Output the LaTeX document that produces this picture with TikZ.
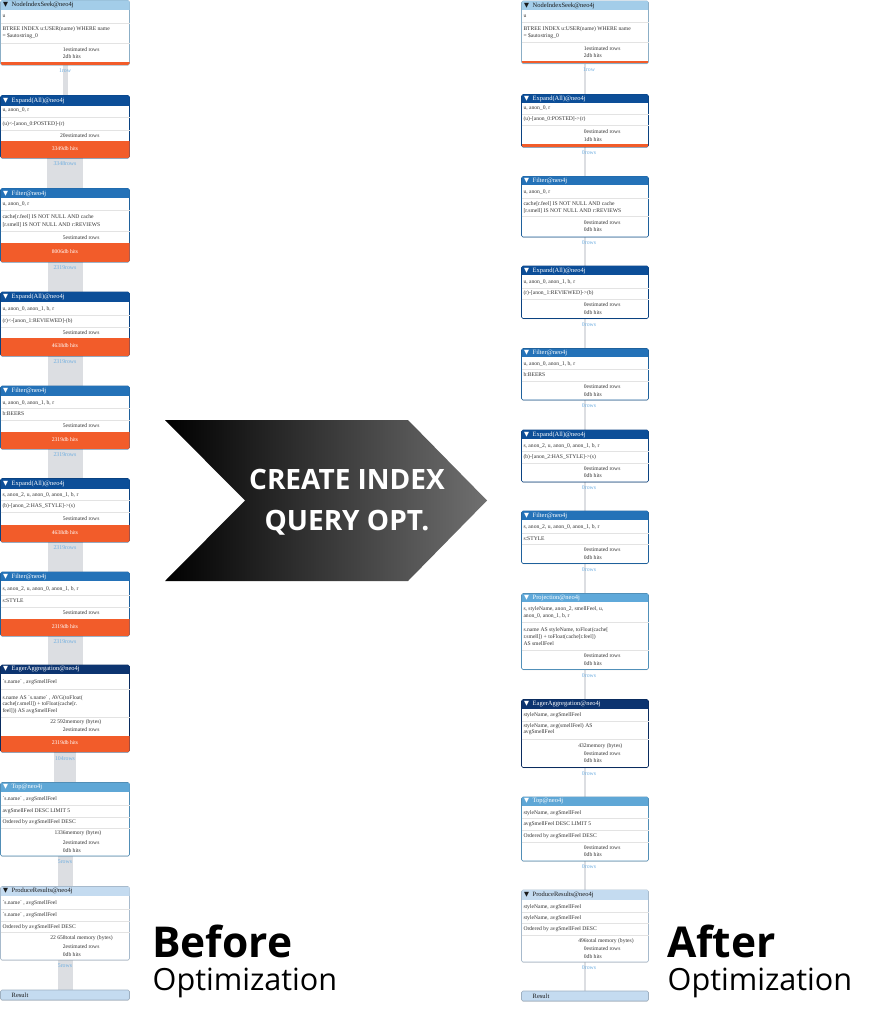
\documentclass[tikz,border=0pt]{standalone}
\usepackage{fontspec}
\setmainfont{Open Sans}
\newfontfamily\planfont{Liberation Serif}
\newfontfamily\symfont{DejaVu Sans}
\usetikzlibrary{shadows}
\pgfdeclarelayer{background}
\pgfsetlayers{background,main}
\definecolor{hdrSeek}{HTML}{A3CDE9}
\definecolor{hdrExpand}{HTML}{0C4E98}
\definecolor{hdrFilter}{HTML}{2472B8}
\definecolor{hdrAgg}{HTML}{0C3470}
\definecolor{hdrTop}{HTML}{5FA7D6}
\definecolor{hdrProj}{HTML}{5FA9DA}
\definecolor{hdrProduce}{HTML}{C4DBF0}
\definecolor{hitsOrange}{HTML}{F25C2A}
\definecolor{rowsBlue}{HTML}{6FAEE0}
\definecolor{pipeGray}{HTML}{DCDEE2}
\definecolor{rowInk}{HTML}{333333}
\definecolor{sepGray}{HTML}{E3E3E3}
\definecolor{titleDark}{HTML}{1A1A1A}
\definecolor{arrowGray}{HTML}{707070}
\newcount\rowno
\newcommand{\BoxW}{129}
\newcommand{\bqt}{\textasciigrave}
\tikzset{
    opframe/.style={rectangle, fill=white, rounded corners=1.5pt, line width=0.6pt,
      inner sep=0pt, outer sep=0pt,
      drop shadow={shadow xshift=0pt, shadow yshift=-0.7pt, fill=black, opacity=0.2}},
    resultframe/.style={opframe, fill=hdrProduce, draw=hdrProduce!80!black},
    optitle/.style={anchor=west, inner sep=0pt, font=\planfont\fontsize{6.5}{7}\selectfont},
    planrow/.style={anchor=west, inner sep=0pt, text=rowInk, font=\planfont\fontsize{5.6}{6}\selectfont},
    hitstext/.style={inner sep=0pt, text=white, font=\planfont\fontsize{5.6}{6}\selectfont},
    plansep/.style={draw=sepGray, line width=0.5pt},
    pipe/.style={draw=pipeGray},
    thinpipe/.style={draw=pipeGray, line width=1.6pt},
    rowcount/.style={pos=0.2, inner sep=0pt, text=rowsBlue, font=\planfont\fontsize{5.8}{6}\selectfont},
    banner/.style={align=center, text=white, font=\bfseries\fontsize{28}{41}\selectfont},
}
\newcommand{\OpBox}[8]{%
  \node[opframe, draw=#6!85!black, anchor=north west, minimum width={\BoxW*1pt},
        minimum height={(#5-#3)*1pt}] (#1) at (#2,#3) {};
  \begin{scope}
    \clip[rounded corners=1.5pt] (#1.north west) rectangle (#1.south east);
    \fill[#6] (#1.north west) rectangle (#2+\BoxW,#4);
  \end{scope}
  \node[optitle, text=#7] (#1-title) at (#2+2.5,{(#3+#4)/2}) {{\symfont ▼}\hspace{3.5pt}#8};
}
\newcommand{\OpHits}[5]{%
  \begin{scope}
    \clip[rounded corners=1.5pt] (#1.north west) rectangle (#1.south east);
    \fill[hitsOrange] (#2,#3) rectangle (#2+\BoxW,#4);
  \end{scope}
  \node[hitstext] (#1-hits) at (#2+\BoxW/2,{(#3+#4)/2-1}) {#5};
}
\newcommand{\OpEdge}[4]{%
  \begin{scope}
    \clip[rounded corners=1.5pt] (#1.north west) rectangle (#1.south east);
    \fill[hitsOrange] (#2,#3) rectangle (#2+\BoxW,#4);
  \end{scope}
}
\newcommand{\OpResult}[4]{%
  \node[resultframe, anchor=north west, minimum width={\BoxW*1pt},
        minimum height={(#4-#3)*1pt}] (#1) at (#2,#3) {};
  \node[optitle, text=titleDark] (#1-title) at (#2+11,{(#3+#4)/2}) {Result};
}
\newcommand{\Row}[3]{\global\advance\rowno by 1
  \node[planrow] (row\the\rowno) at (#1+1.8,#2) {#3};}
\newcommand{\Stat}[4]{\global\advance\rowno by 1
  \node[planrow] (row\the\rowno) at (#1+65,#2) {\llap{#3}#4};}
\newcommand{\Sep}[2]{\draw[plansep] (#1,#2) -- ++(\BoxW,0);}

\begin{document}
\begin{tikzpicture}[x=1pt, y=-1pt]
  \useasboundingbox (0,0) rectangle (888,1016);

  % before: left plan
  \renewcommand{\BoxW}{129}
  \OpBox{seekL}{0.5}{0.5}{10}{65}{hdrSeek}{titleDark}{NodeIndexSeek@neo4j}
  \Row{0.5}{16}{u}
  \Sep{0.5}{23}
  \Row{0.5}{29}{BTREE INDEX u:USER(name) WHERE name}
  \Row{0.5}{36.5}{= \$autostring\_0}
  \Sep{0.5}{43}
  \Stat{0.5}{49.5}{1}{estimated rows}
  \Stat{0.5}{57}{2}{db hits}
  \OpEdge{seekL}{0.5}{62}{65}

  \OpBox{expandL1}{0.5}{95.5}{106}{158}{hdrExpand}{white}{Expand(All)@neo4j}
  \Row{0.5}{110.5}{u, anon\_0, r}
  \Sep{0.5}{117}
  \Row{0.5}{124}{(u)<-[anon\_0:POSTED]-(r)}
  \Sep{0.5}{130}
  \Stat{0.5}{136}{20}{estimated rows}
  \OpHits{expandL1}{0.5}{141}{158}{3349db hits}

  \OpBox{filterL1}{0.5}{188.5}{198.5}{262}{hdrFilter}{white}{Filter@neo4j}
  \Row{0.5}{204}{u, anon\_0, r}
  \Sep{0.5}{210}
  \Row{0.5}{216.5}{cache[r.feel] IS NOT NULL AND cache}
  \Row{0.5}{225}{[r.smell] IS NOT NULL AND r:REVIEWS}
  \Sep{0.5}{231.5}
  \Stat{0.5}{237.5}{5}{estimated rows}
  \OpHits{filterL1}{0.5}{243}{262}{8006db hits}

  \OpBox{expandL2}{0.5}{292}{302}{356}{hdrExpand}{white}{Expand(All)@neo4j}
  \Row{0.5}{308.5}{u, anon\_0, anon\_1, b, r}
  \Sep{0.5}{315}
  \Row{0.5}{321}{(r)<-[anon\_1:REVIEWED]-(b)}
  \Sep{0.5}{327}
  \Stat{0.5}{332.5}{5}{estimated rows}
  \OpHits{expandL2}{0.5}{338}{356}{4638db hits}

  \OpBox{filterL2}{0.5}{386}{395.5}{449}{hdrFilter}{white}{Filter@neo4j}
  \Row{0.5}{402.5}{u, anon\_0, anon\_1, b, r}
  \Sep{0.5}{408.5}
  \Row{0.5}{414}{b:BEERS}
  \Sep{0.5}{420}
  \Stat{0.5}{426}{5}{estimated rows}
  \OpHits{filterL2}{0.5}{432}{449}{2319db hits}

  \OpBox{expandL3}{0.5}{478.5}{488.5}{542}{hdrExpand}{white}{Expand(All)@neo4j}
  \Row{0.5}{495}{s, anon\_2, u, anon\_0, anon\_1, b, r}
  \Sep{0.5}{500.5}
  \Row{0.5}{506}{(b)-[anon\_2:HAS\_STYLE]->(s)}
  \Sep{0.5}{512}
  \Stat{0.5}{518.5}{5}{estimated rows}
  \OpHits{expandL3}{0.5}{525}{542}{4638db hits}

  \OpBox{filterL3}{0.5}{572}{581}{636}{hdrFilter}{white}{Filter@neo4j}
  \Row{0.5}{589}{s, anon\_2, u, anon\_0, anon\_1, b, r}
  \Sep{0.5}{595}
  \Row{0.5}{601}{s:STYLE}
  \Sep{0.5}{607}
  \Stat{0.5}{613}{5}{estimated rows}
  \OpHits{filterL3}{0.5}{618.5}{636}{2319db hits}

  \OpBox{aggL}{0.5}{665}{674}{752}{hdrAgg}{white}{EagerAggregation@neo4j}
  \Row{0.5}{682}{\bqt s.name\bqt{} , avgSmellFeel}
  \Sep{0.5}{689.5}
  \Row{0.5}{698}{s.name AS \bqt s.name\bqt{} , AVG(toFloat(}
  \Row{0.5}{704.5}{cache[r.smell]) + toFloat(cache[r.}
  \Row{0.5}{711}{feel])) AS avgSmellFeel}
  \Sep{0.5}{717}
  \Stat{0.5}{722.5}{22 592}{memory (bytes)}
  \Stat{0.5}{730}{2}{estimated rows}
  \OpHits{aggL}{0.5}{735.5}{752}{2319db hits}

  \OpBox{topL}{0.5}{782.5}{792}{856}{hdrTop}{white}{Top@neo4j}
  \Row{0.5}{799}{\bqt s.name\bqt{} , avgSmellFeel}
  \Sep{0.5}{805}
  \Row{0.5}{811}{avgSmellFeel DESC LIMIT 5}
  \Sep{0.5}{817}
  \Row{0.5}{822.5}{Ordered by avgSmellFeel DESC}
  \Sep{0.5}{828.5}
  \Stat{0.5}{833.5}{1336}{memory (bytes)}
  \Stat{0.5}{842.5}{2}{estimated rows}
  \Stat{0.5}{850.5}{0}{db hits}

  \OpBox{produceL}{0.5}{886.5}{896}{960}{hdrProduce}{titleDark}{ProduceResults@neo4j}
  \Row{0.5}{903.5}{\bqt s.name\bqt{} , avgSmellFeel}
  \Sep{0.5}{909.5}
  \Row{0.5}{915}{\bqt s.name\bqt{} , avgSmellFeel}
  \Sep{0.5}{921}
  \Row{0.5}{927}{Ordered by avgSmellFeel DESC}
  \Sep{0.5}{932.5}
  \Stat{0.5}{938.5}{22 658}{total memory (bytes)}
  \Stat{0.5}{947}{2}{estimated rows}
  \Stat{0.5}{954.5}{0}{db hits}

  \OpResult{resultL}{0.5}{990}{1000}

  % after: right plan
  \renewcommand{\BoxW}{127}
  \OpBox{seekR}{521.5}{1}{10}{63.5}{hdrSeek}{titleDark}{NodeIndexSeek@neo4j}
  \Row{521.5}{16}{u}
  \Sep{521.5}{22}
  \Row{521.5}{29}{BTREE INDEX u:USER(name) WHERE name}
  \Row{521.5}{36}{= \$autostring\_0}
  \Sep{521.5}{42.5}
  \Stat{521.5}{48.5}{1}{estimated rows}
  \Stat{521.5}{56}{2}{db hits}
  \OpEdge{seekR}{521.5}{61}{63.5}

  \OpBox{expandR1}{521.5}{94.5}{103}{147}{hdrExpand}{white}{Expand(All)@neo4j}
  \Row{521.5}{108.5}{u, anon\_0, r}
  \Sep{521.5}{114}
  \Row{521.5}{119}{(u)-[anon\_0:POSTED]->(r)}
  \Sep{521.5}{125}
  \Stat{521.5}{132}{0}{estimated rows}
  \Stat{521.5}{140}{1}{db hits}
  \OpEdge{expandR1}{521.5}{144.5}{147}

  \OpBox{filterR1}{521.5}{176.5}{185}{237}{hdrFilter}{white}{Filter@neo4j}
  \Row{521.5}{192.5}{u, anon\_0, r}
  \Sep{521.5}{198}
  \Row{521.5}{203.5}{cache[r.feel] IS NOT NULL AND cache}
  \Row{521.5}{211}{[r.smell] IS NOT NULL AND r:REVIEWS}
  \Sep{521.5}{216.5}
  \Stat{521.5}{222.5}{0}{estimated rows}
  \Stat{521.5}{230}{0}{db hits}

  \OpBox{expandR2}{521.5}{266}{275}{318.5}{hdrExpand}{white}{Expand(All)@neo4j}
  \Row{521.5}{282}{u, anon\_0, anon\_1, b, r}
  \Sep{521.5}{288}
  \Row{521.5}{293.5}{(r)-[anon\_1:REVIEWED]->(b)}
  \Sep{521.5}{299.5}
  \Stat{521.5}{305}{0}{estimated rows}
  \Stat{521.5}{312.5}{0}{db hits}

  \OpBox{filterR2}{521.5}{348.5}{357}{400}{hdrFilter}{white}{Filter@neo4j}
  \Row{521.5}{363.5}{u, anon\_0, anon\_1, b, r}
  \Sep{521.5}{369.5}
  \Row{521.5}{375}{b:BEERS}
  \Sep{521.5}{381}
  \Stat{521.5}{387}{0}{estimated rows}
  \Stat{521.5}{394.5}{0}{db hits}

  \OpBox{expandR3}{521.5}{430}{439}{482}{hdrExpand}{white}{Expand(All)@neo4j}
  \Row{521.5}{446}{s, anon\_2, u, anon\_0, anon\_1, b, r}
  \Sep{521.5}{451.5}
  \Row{521.5}{457}{(b)-[anon\_2:HAS\_STYLE]->(s)}
  \Sep{521.5}{463}
  \Stat{521.5}{468.5}{0}{estimated rows}
  \Stat{521.5}{476}{0}{db hits}

  \OpBox{filterR3}{521.5}{511}{520}{563.5}{hdrFilter}{white}{Filter@neo4j}
  \Row{521.5}{527}{s, anon\_2, u, anon\_0, anon\_1, b, r}
  \Sep{521.5}{533}
  \Row{521.5}{538.5}{s:STYLE}
  \Sep{521.5}{544.5}
  \Stat{521.5}{550}{0}{estimated rows}
  \Stat{521.5}{558}{0}{db hits}

  \OpBox{projR}{521.5}{593.5}{602}{669.5}{hdrProj}{white}{Projection@neo4j}
  \Row{521.5}{609}{s, styleName, anon\_2, smellFeel, u,}
  \Row{521.5}{616}{anon\_0, anon\_1, b, r}
  \Sep{521.5}{622.5}
  \Row{521.5}{630}{s.name AS styleName, toFloat(cache[}
  \Row{521.5}{637}{r.smell]) + toFloat(cache[r.feel])}
  \Row{521.5}{644}{AS smellFeel}
  \Sep{521.5}{650}
  \Stat{521.5}{656}{0}{estimated rows}
  \Stat{521.5}{664}{0}{db hits}

  \OpBox{aggR}{521.5}{699.5}{708.5}{767.5}{hdrAgg}{white}{EagerAggregation@neo4j}
  \Row{521.5}{715}{styleName, avgSmellFeel}
  \Sep{521.5}{721}
  \Row{521.5}{726}{styleName, avg(smellFeel) AS}
  \Row{521.5}{732.5}{avgSmellFeel}
  \Sep{521.5}{739}
  \Stat{521.5}{746}{432}{memory (bytes)}
  \Stat{521.5}{753.5}{0}{estimated rows}
  \Stat{521.5}{761}{0}{db hits}

  \OpBox{topR}{521.5}{797}{806}{861}{hdrTop}{white}{Top@neo4j}
  \Row{521.5}{813}{styleName, avgSmellFeel}
  \Sep{521.5}{818.5}
  \Row{521.5}{824}{avgSmellFeel DESC LIMIT 5}
  \Sep{521.5}{830}
  \Row{521.5}{836}{Ordered by avgSmellFeel DESC}
  \Sep{521.5}{842}
  \Stat{521.5}{847.5}{0}{estimated rows}
  \Stat{521.5}{855}{0}{db hits}

  \OpBox{produceR}{521.5}{890}{899.5}{962}{hdrProduce}{titleDark}{ProduceResults@neo4j}
  \Row{521.5}{907}{styleName, avgSmellFeel}
  \Sep{521.5}{912.5}
  \Row{521.5}{918}{styleName, avgSmellFeel}
  \Sep{521.5}{923.5}
  \Row{521.5}{929.5}{Ordered by avgSmellFeel DESC}
  \Sep{521.5}{935}
  \Stat{521.5}{941}{496}{total memory (bytes)}
  \Stat{521.5}{949}{0}{estimated rows}
  \Stat{521.5}{957}{0}{db hits}

  \OpResult{resultR}{521.5}{991}{1001}

  % row pipes
  \begin{pgfonlayer}{background}
    \draw[pipe, line width=5pt] (seekL) -- node[rowcount]{1row} (expandL1);
    \draw[pipe, line width=36pt] (expandL1) -- node[rowcount]{3348rows} (filterL1);
    \draw[pipe, line width=35pt] (filterL1) -- node[rowcount]{2319rows} (expandL2);
    \draw[pipe, line width=35pt] (expandL2) -- node[rowcount]{2319rows} (filterL2);
    \draw[pipe, line width=35pt] (filterL2) -- node[rowcount]{2319rows} (expandL3);
    \draw[pipe, line width=35pt] (expandL3) -- node[rowcount]{2319rows} (filterL3);
    \draw[pipe, line width=35pt] (filterL3) -- node[rowcount]{2319rows} (aggL);
    \draw[pipe, line width=22pt] (aggL) -- node[rowcount]{104rows} (topL);
    \draw[pipe, line width=15pt] (topL) -- node[rowcount]{5rows} (produceL);
    \draw[pipe, line width=15pt] (produceL) -- node[rowcount]{5rows} (resultL);

    \draw[thinpipe] (seekR) -- node[rowcount, xshift=4pt]{1row} (expandR1);
    \draw[thinpipe] (expandR1) -- node[rowcount, xshift=4pt]{0rows} (filterR1);
    \draw[thinpipe] (filterR1) -- node[rowcount, xshift=4pt]{0rows} (expandR2);
    \draw[thinpipe] (expandR2) -- node[rowcount, xshift=4pt]{0rows} (filterR2);
    \draw[thinpipe] (filterR2) -- node[rowcount, xshift=4pt]{0rows} (expandR3);
    \draw[thinpipe] (expandR3) -- node[rowcount, xshift=4pt]{0rows} (filterR3);
    \draw[thinpipe] (filterR3) -- node[rowcount, xshift=4pt]{0rows} (projR);
    \draw[thinpipe] (projR) -- node[rowcount, xshift=4pt]{0rows} (aggR);
    \draw[thinpipe] (aggR) -- node[rowcount, xshift=4pt]{0rows} (topR);
    \draw[thinpipe] (topR) -- node[rowcount, xshift=4pt]{0rows} (produceR);
    \draw[thinpipe] (produceR) -- node[rowcount, xshift=4pt]{0rows} (resultR);
  \end{pgfonlayer}

  % optimisation arrow
  \shade[left color=black, right color=arrowGray]
    (165,420) -- (408,420) -- (487,500.5) -- (408,581) -- (165,581) -- (245,500.5) -- cycle;
  \node[banner] (indexopt) at (347,502) {CREATE INDEX\\QUERY OPT.};

  \node[anchor=base west, inner sep=0pt, font=\bfseries\fontsize{42.5}{42}\selectfont] (before) at (152,957) {Before};
  \node[anchor=base west, inner sep=0pt, font=\fontsize{30.6}{31}\selectfont] (beforesub) at (152.5,990) {Optimization};
  \node[anchor=base west, inner sep=0pt, font=\bfseries\fontsize{42.5}{42}\selectfont] (after) at (667,957) {After};
  \node[anchor=base west, inner sep=0pt, font=\fontsize{30.6}{31}\selectfont] (aftersub) at (667.5,990) {Optimization};
\end{tikzpicture}
\end{document}
